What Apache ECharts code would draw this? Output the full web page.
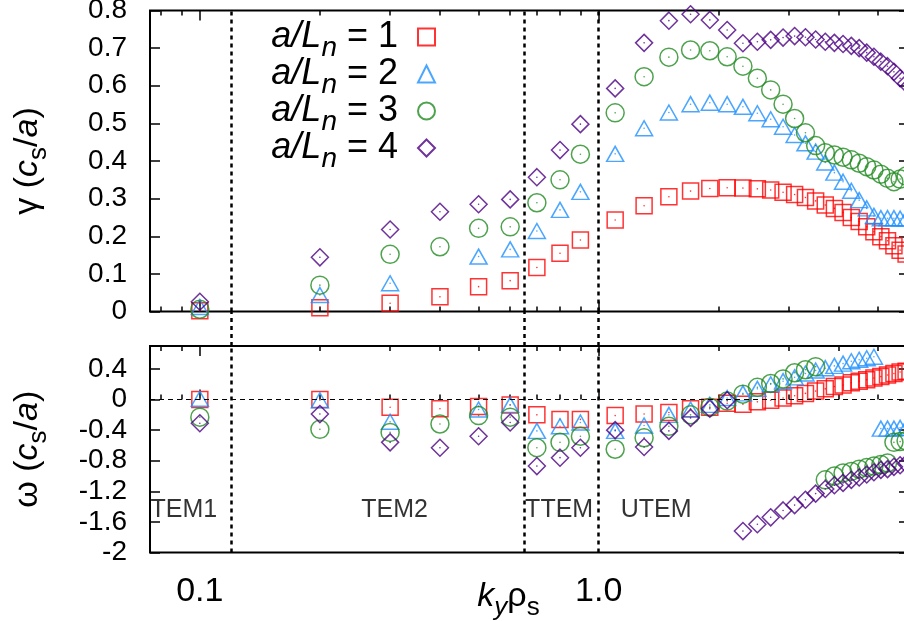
<!DOCTYPE html>
<html><head><meta charset="utf-8">
<script src="https://cdn.jsdelivr.net/npm/echarts@6/dist/echarts.min.js"></script>
<style>html,body{margin:0;padding:0;background:#fff}#c{width:904px;height:621px}</style>
</head><body><div id="c"></div>
<script>
// ---------------- data ----------------
const kValues = [0.1,0.2,0.3,0.4,0.5,0.6,0.7,0.8,0.9,1.1,1.3,1.5,1.7,1.9,2.1,2.3,2.5,2.7,2.9,3.1,3.3,3.5,3.7,3.9,4.1,4.3,4.5,4.7,4.9,5.1,5.3,5.5,5.7,5.9];

const gamma1 = [0.002,0.010,0.022,0.039,0.066,0.082,0.117,0.155,0.190,0.243,0.281,0.305,0.320,0.327,0.329,0.328,0.326,0.323,0.317,0.311,0.303,0.294,0.283,0.274,0.263,0.250,0.239,0.225,0.212,0.199,0.188,0.175,0.163,0.153];
const gamma2 = [0.012,0.044,0.075,null,0.146,0.165,0.214,0.270,0.318,0.419,0.487,0.529,0.551,0.555,0.551,0.544,0.527,0.511,0.491,0.469,0.447,0.425,0.396,0.369,0.345,0.321,0.296,0.274,0.254,0.248,0.248,0.248,0.247,0.247];
const gamma3 = [0.006,0.070,0.152,0.172,0.221,0.225,0.289,0.350,0.418,0.528,0.624,0.676,0.695,0.693,0.677,0.652,0.620,0.589,0.551,0.513,0.475,0.441,0.422,0.416,0.410,0.403,0.394,0.385,0.376,0.365,0.354,0.345,0.352,0.360];
const gamma4 = [0.026,0.144,0.218,0.265,0.285,0.298,0.357,0.429,0.498,0.593,0.714,0.773,0.790,0.775,0.748,0.713,0.717,0.722,0.728,0.732,0.729,0.723,0.717,0.714,0.711,0.706,0.700,0.688,0.677,0.664,0.652,0.637,0.620,0.606];

const omega1 = [0.00,0.00,-0.10,-0.12,-0.09,-0.07,-0.20,-0.26,-0.26,-0.21,-0.19,-0.17,-0.12,-0.10,-0.05,-0.06,-0.03,-0.01,0.02,0.05,0.08,0.11,0.14,0.17,0.19,0.22,0.24,0.26,0.28,0.30,0.32,0.34,0.36,0.37];
const omega2 = [0.01,-0.01,-0.29,null,-0.13,-0.07,-0.41,-0.35,-0.30,-0.41,-0.34,-0.20,-0.13,-0.07,0.02,0.08,0.14,0.20,0.24,0.29,0.34,0.38,0.41,0.44,0.47,0.50,0.52,0.54,0.56,-0.38,-0.38,-0.38,-0.37,-0.37];
const omega3 = [-0.23,-0.39,-0.43,-0.32,-0.21,-0.23,-0.63,-0.56,-0.48,-0.65,-0.50,-0.35,-0.20,-0.10,-0.02,0.07,0.16,0.21,0.27,0.35,0.39,0.43,-1.05,-1.00,-0.96,-0.94,-0.91,-0.89,-0.87,-0.85,-0.83,-0.56,-0.55,-0.54];
const omega4 = [-0.31,-0.19,-0.56,-0.63,-0.48,-0.30,-0.87,-0.76,-0.63,-0.40,-0.62,-0.41,-0.24,-0.12,-0.01,-1.72,-1.63,-1.54,-1.45,-1.38,-1.31,-1.23,-1.17,-1.12,-1.09,-1.05,-1.02,-0.98,-0.95,-0.92,-0.91,-0.88,-0.86,-0.84];

const seriesLabels = ['1','2','3','4'];
const xMajorTicks = [0.1, 1];
const xMinorTicks = [0.08,0.09,0.2,0.3,0.4,0.5,0.6,0.7,0.8,0.9,2,3,4,5,6];
const xTickLabels = [0.1, 1];
const gammaTicks = [0,0.1,0.2,0.3,0.4,0.5,0.6,0.7,0.8];
const omegaTicks = [-2,-1.6,-1.2,-0.8,-0.4,0,0.4];
const boundaries = [0.116, 0.645, 1.0];
const regionNames = ['TEM1','TEM2','TTEM','UTEM'];
const regionK = [0.0912, 0.308, 0.796, 1.393];
const regionOmega = [-1.44,-1.44,-1.44,-1.44];

// ---------------- styles ----------------
const FONT = '"Liberation Sans", Arial, Helvetica, sans-serif';
const X_MIN = 0.075, X_MAX = 6;
const colors = ['#ff0000', '#1e90ff', '#228b22', '#4b0082'];
const symbols = ['rect', 'triangle', 'circle', 'diamond'];
const sizes = [16, [17, 15], 18, 17];
const gammas = [gamma1, gamma2, gamma3, gamma4];
const omegas = [omega1, omega2, omega3, omega4];
const names = seriesLabels.map(s => 'a/Ln = ' + s);

function pts(vals) {
  const out = [];
  kValues.forEach((k, i) => { if (vals[i] !== null && vals[i] !== undefined) out.push([k, vals[i]]); });
  return out;
}

function xAx(grid, pos, ticks, len, labels) {
  return {
    type: 'log', logBase: 10, gridIndex: grid, position: pos, min: X_MIN, max: X_MAX,
    axisLine: { show: false }, splitLine: { show: false }, minorTick: { show: false },
    axisTick: { show: ticks.length > 0, inside: true, length: len, customValues: ticks.length ? ticks : [X_MIN],
      lineStyle: { color: '#000', width: 1.5 } },
    axisLabel: { show: !!labels, customValues: xTickLabels, margin: 22, color: '#000', fontSize: 34, fontFamily: FONT,
      formatter: v => (Math.abs(v - 1) < 1e-9 ? '1.0' : String(v)) }
  };
}
function yAx(grid, pos, min, max, ticks, labels) {
  return {
    type: 'value', gridIndex: grid, position: pos, min: min, max: max,
    axisLine: { show: false }, splitLine: { show: false },
    axisTick: { show: ticks.length > 0, inside: true, length: 10, customValues: ticks.length ? ticks : [min],
      lineStyle: { color: '#000', width: 1.5 } },
    axisLabel: { show: !!labels, customValues: ticks.length ? ticks : [min], margin: 23, color: '#000', fontSize: 28, fontFamily: FONT,
      showMinLabel: true, showMaxLabel: true, hideOverlap: false }
  };
}

const xAxes = [
  xAx(0, 'bottom', xMajorTicks, 10), xAx(0, 'bottom', xMinorTicks, 5),
  xAx(0, 'top', xMajorTicks, 10), xAx(0, 'top', xMinorTicks, 5),
  xAx(1, 'bottom', xMajorTicks, 10, true), xAx(1, 'bottom', xMinorTicks, 5),
  xAx(1, 'top', xMajorTicks, 10), xAx(1, 'top', xMinorTicks, 5),
  xAx(2, 'bottom', [], 0)
];
function richSet(fs, sfs) {
  return {
    t: { fontSize: fs, fontFamily: FONT, color: '#000', lineHeight: 36, verticalAlign: 'middle' },
    it: { fontSize: fs, fontFamily: FONT, fontStyle: 'italic', color: '#000', lineHeight: 36, verticalAlign: 'middle' },
    sub: { fontSize: sfs, fontFamily: FONT, color: '#000', height: 14, lineHeight: 14, verticalAlign: 'bottom' },
    subi: { fontSize: sfs, fontFamily: FONT, fontStyle: 'italic', color: '#000', height: 14, lineHeight: 14, verticalAlign: 'bottom' }
  };
}
const nameRich = richSet(34, 26);
xAxes[4].name = '{it|k}{subi|y}{t|ρ}{sub|s}';
xAxes[4].nameLocation = 'middle';
xAxes[4].nameGap = 26;
xAxes[4].nameMoveOverlap = false;
xAxes[4].nameTextStyle = { rich: nameRich, padding: [0, 42, 0, 0] };

const yAxes = [
  yAx(0, 'left', 0, 0.8, gammaTicks, true), yAx(0, 'right', 0, 0.8, gammaTicks, false),
  yAx(1, 'left', -2, 0.7, omegaTicks, true), yAx(1, 'right', -2, 0.7, omegaTicks, false),
  yAx(2, 'left', 0, 1, [], false)
];
yAxes[0].name = '{t|γ (}{it|c}{sub|s}{t|/}{it|a}{t|)}';
yAxes[2].name = '{t|ω (}{it|c}{sub|s}{t|/}{it|a}{t|)}';
[0, 2].forEach(i => {
  yAxes[i].nameLocation = 'middle';
  yAxes[i].nameGap = 104;
  yAxes[i].nameMoveOverlap = false;
  yAxes[i].nameTextStyle = { rich: nameRich };
});

const series = [];
// gamma panel
for (let s = 0; s < 4; s++) {
  series.push({
    name: names[s], type: 'scatter', xAxisIndex: 0, yAxisIndex: 0, data: pts(gammas[s]),
    symbol: symbols[s], symbolSize: sizes[s],
    itemStyle: { color: 'rgba(0,0,0,0)', borderColor: colors[s], borderWidth: 1.5 }
  });
  series.push({
    name: 'dot' + s, type: 'scatter', xAxisIndex: 0, yAxisIndex: 0, data: pts(gammas[s]),
    symbol: 'circle', symbolSize: 1.6, itemStyle: { color: colors[s] }, silent: true
  });
}
// omega panel
for (let s = 0; s < 4; s++) {
  series.push({
    name: names[s], type: 'scatter', xAxisIndex: 4, yAxisIndex: 2, data: pts(omegas[s]),
    symbol: symbols[s], symbolSize: sizes[s],
    itemStyle: { color: 'rgba(0,0,0,0)', borderColor: colors[s], borderWidth: 1.5 }
  });
  series.push({
    name: 'dot' + s, type: 'scatter', xAxisIndex: 4, yAxisIndex: 2, data: pts(omegas[s]),
    symbol: 'circle', symbolSize: 1.6, itemStyle: { color: colors[s] }, silent: true
  });
}
const vLine = {
  silent: true, symbol: ['none', 'none'], label: { show: false },
  lineStyle: { color: '#000', width: 2.5, type: [4, 4] },
  data: boundaries.map(b => ({ xAxis: b }))
};
series.push({ name: 'b0', type: 'scatter', xAxisIndex: 0, yAxisIndex: 0, data: [], markLine: vLine });
series.push({ name: 'b1', type: 'scatter', xAxisIndex: 4, yAxisIndex: 2, data: [], markLine: vLine });
series.push({ name: 'b2', type: 'scatter', xAxisIndex: 8, yAxisIndex: 4, data: [], markLine: vLine });
series.push({ name: 'zero', type: 'scatter', xAxisIndex: 4, yAxisIndex: 2, data: [],
  markLine: { silent: true, symbol: ['none', 'none'], label: { show: false },
    lineStyle: { color: '#000', width: 1, type: [5, 4] }, data: [{ yAxis: 0 }] } });
series.push({
  name: 'regions', type: 'scatter', xAxisIndex: 4, yAxisIndex: 2, silent: true,
  data: regionNames.map((n, i) => ({ value: [regionK[i], regionOmega[i]], name: n })),
  symbolSize: 1, itemStyle: { color: 'rgba(0,0,0,0)' },
  label: { show: true, position: 'inside', formatter: p => p.name, color: '#000', fontSize: 25, fontFamily: FONT }
});

const gridBase = { left: 150, width: 759, outerBoundsMode: 'none', containLabel: false };
const option = {
  animation: false,
  backgroundColor: '#fff',
  grid: [
    Object.assign({}, gridBase, { top: 10.5, height: 301, show: true, borderColor: '#000', borderWidth: 2, backgroundColor: 'rgba(0,0,0,0)' }),
    Object.assign({}, gridBase, { top: 346, height: 206.5, show: true, borderColor: '#000', borderWidth: 2, backgroundColor: 'rgba(0,0,0,0)' }),
    Object.assign({}, gridBase, { top: 311.5, height: 34.5, show: false })
  ],
  xAxis: xAxes,
  yAxis: yAxes,
  legend: {
    data: names, orient: 'vertical', align: 'right', right: 468, top: 19, padding: 0,
    itemWidth: 17, itemHeight: 17, itemGap: -6, selectedMode: false,
    formatter: n => '{it|a/L}{subi|n}{t| = ' + n.split('= ')[1] + '}{pad|\u00a0}',
    textStyle: { fontSize: 36, fontFamily: FONT, color: '#000',
      rich: Object.assign({}, richSet(36, 28), { pad: { width: 15, fontSize: 10 } }) }
  },
  series: series
};
const chart = echarts.init(document.getElementById('c'), null, { renderer: 'canvas' });
chart.setOption(option);
</script>
</body></html>
